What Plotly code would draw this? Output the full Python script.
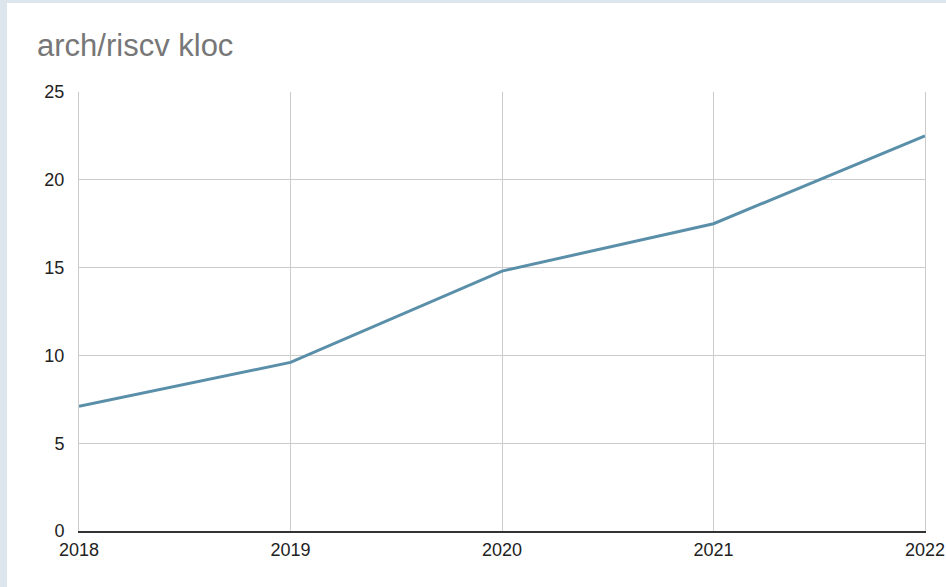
import plotly.graph_objects as go

years = [2018, 2019, 2020, 2021, 2022]
kloc = [7.1, 9.6, 14.8, 17.5, 22.5]
y_ticks = [0, 5, 10, 15, 20, 25]
title_text = "arch/riscv kloc"

W, H = 946, 587
L, R, T, B = 79, 21, 92, 56
ph = H - T - B
pw = W - L - R

fig = go.Figure()
fig.add_trace(go.Scatter(x=years, y=kloc, mode="lines",
                         line=dict(color="#5a8fa9", width=3), hoverinfo="x+y"))

# white card over light blue-grey page background
fig.add_shape(type="rect", xref="paper", yref="paper", layer="below",
              x0=(7 - L) / pw, x1=(W + 5 - L) / pw,
              y0=(H - B - (H + 5)) / ph, y1=(H - B - 3) / ph,
              fillcolor="white", line=dict(width=0))

fig.update_layout(
    width=W, height=H,
    margin=dict(l=L, r=R, t=T, b=B, autoexpand=False),
    paper_bgcolor="#dde5ed",
    plot_bgcolor="white",
    showlegend=False,
    font=dict(family="Liberation Sans, Arial, sans-serif", size=18, color="#222222"),
    title=dict(text=title_text, xref="container", yref="container",
               x=37 / W, xanchor="left", y=1 - 45 / H, yanchor="middle",
               font=dict(size=31, color="#777777")),
    xaxis=dict(range=[years[0], years[-1]], tickvals=years, ticktext=[str(y) for y in years],
               showgrid=True, gridcolor="#cccccc", gridwidth=1, automargin=False,
               zeroline=False, showline=True, linecolor="#333333", linewidth=1.5,
               ticks="", ticklabelstandoff=2),
    yaxis=dict(range=[0, 25], tickvals=y_ticks, automargin=False,
               showgrid=True, gridcolor="#cccccc", gridwidth=1,
               zeroline=False, showline=True, linecolor="#cccccc", linewidth=1, mirror=True,
               ticks="", ticklabelstandoff=10),
)

fig.write_html("out.html")
